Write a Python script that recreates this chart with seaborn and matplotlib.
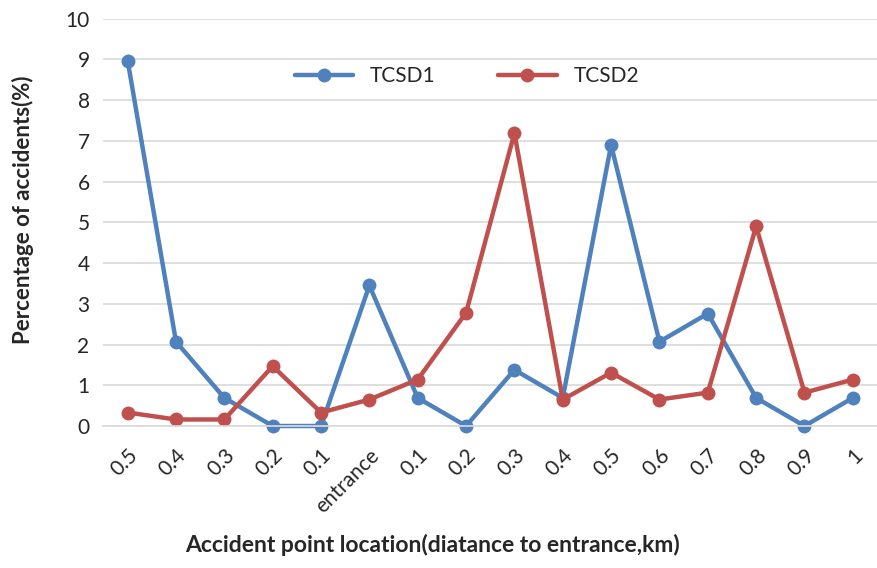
import matplotlib
matplotlib.use("Agg")
import matplotlib.pyplot as plt
import seaborn as sns
import pandas as pd
import numpy as np

categories = ["0.5", "0.4", "0.3", "0.2", "0.1", "entrance", "0.1", "0.2", "0.3",
              "0.4", "0.5", "0.6", "0.7", "0.8", "0.9", "1"]
tcsd1 = [8.97, 2.07, 0.69, 0.0, 0.0, 3.45, 0.69, 0.0, 1.38, 0.69, 6.9, 2.07, 2.76, 0.69, 0.0, 0.69]
tcsd2 = [0.33, 0.16, 0.16, 1.47, 0.33, 0.65, 1.14, 2.78, 7.19, 0.65, 1.31, 0.65, 0.82, 4.9, 0.82, 1.14]

pos = list(range(len(categories)))
df = pd.DataFrame({"pos": pos * 2,
                   "value": tcsd1 + tcsd2,
                   "series": ["TCSD1"] * len(pos) + ["TCSD2"] * len(pos)})

sns.set_theme(style="white")
plt.rcParams["font.family"] = ["Lato", "DejaVu Sans"]

fig = plt.figure(figsize=(8.77, 5.68), dpi=100)
ax = fig.add_axes([0.118, 0.25, 0.882, 0.717])

palette = {"TCSD1": "#4F81BD", "TCSD2": "#C0504D"}
sns.lineplot(data=df, x="pos", y="value", hue="series", palette=palette,
             marker="o", markersize=10, markeredgewidth=0, linewidth=3.2, ax=ax)
for line in ax.lines:
    line.set_clip_on(False)

ax.set_xlim(-0.5, len(categories) - 0.5)
ax.set_ylim(0, 10)
ax.set_yticks(range(0, 11))
ax.set_xticks(pos)
ax.set_xticklabels(categories, rotation=45, ha="right", rotation_mode="anchor", fontsize=15)
ax.tick_params(axis="y", labelsize=15, length=0, pad=10)
ax.tick_params(axis="x", length=0, pad=14)
ax.grid(axis="y", color="#D9D9D9", linewidth=1.2)
for s in ["top", "right", "left"]:
    ax.spines[s].set_visible(False)
ax.spines["bottom"].set_color("#D9D9D9")
ax.set_xlabel("Accident point location(diatance to entrance,km)", fontsize=16.5,
              fontweight="bold")
ax.set_ylabel("Percentage of accidents(%)", fontsize=16, fontweight="bold")
ax.xaxis.set_label_coords(0.425, -0.265)
ax.yaxis.set_label_coords(-0.09, 0.53)

leg = ax.legend(loc="upper center", bbox_to_anchor=(0.47, 0.93), ncol=2, frameon=False,
                fontsize=15, handlelength=2.8, columnspacing=3.0)

fig.savefig("out.png", dpi=100)
